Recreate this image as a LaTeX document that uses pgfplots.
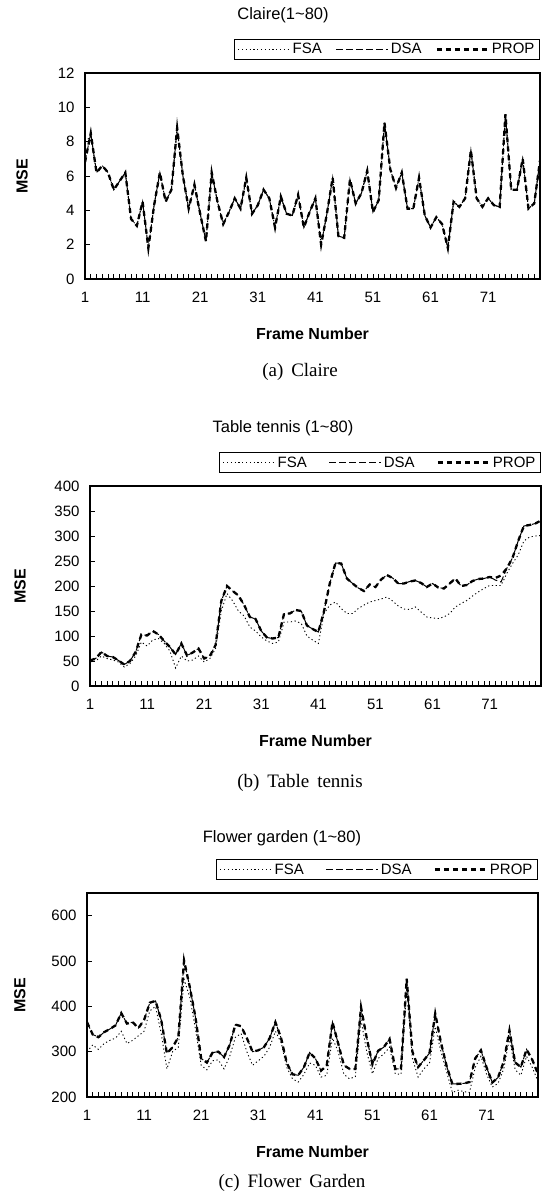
\documentclass[border=0pt]{standalone}
\usepackage{fontspec}
\setmainfont{Liberation Sans}
\newfontfamily\capfont{Liberation Serif}
\usepackage{pgfplots}
\usepackage{pgfplotstable}
\pgfplotsset{compat=1.18}

\pgfplotstableread{
f fsa dsa prop
1 8.0 6.8 6.8
2 8.3 8.5 8.5
3 6.2 6.2 6.2
4 6.6 6.6 6.6
5 6.2 6.2 6.2
6 5.2 5.2 5.2
7 5.7 5.7 5.7
8 6.2 6.2 6.2
9 3.5 3.5 3.5
10 3.1 3.1 3.1
11 4.5 4.5 4.5
12 1.8 1.8 1.8
13 4.3 4.3 4.3
14 6.2 6.2 6.2
15 4.5 4.5 4.5
16 5.2 5.2 5.2
17 8.8 8.8 8.8
18 6.0 6.0 6.0
19 4.1 4.1 4.1
20 5.5 5.5 5.5
21 3.8 3.8 3.8
22 2.2 2.2 2.2
23 6.2 6.2 6.2
24 4.5 4.5 4.5
25 3.2 3.2 3.2
26 3.9 3.9 3.9
27 4.7 4.7 4.7
28 4.1 4.1 4.1
29 5.9 5.9 5.9
30 3.8 3.8 3.8
31 4.3 4.3 4.3
32 5.2 5.2 5.2
33 4.7 4.7 4.7
34 3.0 3.0 3.0
35 4.8 4.8 4.8
36 3.8 3.8 3.8
37 3.7 3.7 3.7
38 4.9 4.9 4.9
39 3.0 3.0 3.0
40 3.9 3.9 3.9
41 4.7 4.7 4.7
42 2.0 2.0 2.0
43 3.8 3.8 3.8
44 5.9 5.9 5.9
45 2.5 2.5 2.5
46 2.4 2.4 2.4
47 5.8 5.8 5.8
48 4.4 4.4 4.4
49 5.0 5.0 5.0
50 6.3 6.3 6.3
51 3.9 3.9 3.9
52 4.6 4.6 4.6
53 9.1 9.1 9.1
54 6.4 6.4 6.4
55 5.3 5.3 5.3
56 6.2 6.2 6.2
57 4.1 4.1 4.1
58 4.1 4.1 4.1
59 5.9 5.9 5.9
60 3.7 3.7 3.7
61 3.0 3.0 3.0
62 3.6 3.6 3.6
63 3.2 3.2 3.2
64 1.8 1.8 1.8
65 4.5 4.5 4.5
66 4.2 4.2 4.2
67 4.7 4.7 4.7
68 7.5 7.5 7.5
69 4.7 4.7 4.7
70 4.2 4.2 4.2
71 4.7 4.7 4.7
72 4.3 4.3 4.3
73 4.2 4.2 4.2
74 9.6 9.6 9.6
75 5.2 5.2 5.2
76 5.2 5.2 5.2
77 7.0 7.0 7.0
78 4.1 4.1 4.1
79 4.4 4.4 4.4
80 6.9 6.9 6.9
}\claire

\pgfplotstableread{
f fsa dsa prop
1 48 51 51
2 50 55 55
3 60 68 68
4 55 60 60
5 52 58 58
6 48 51 51
7 38 43 43
8 45 50 50
9 60 68 68
10 88 103 103
11 80 101 101
12 92 110 110
13 95 103 103
14 85 90 90
15 70 78 78
16 36 63 63
17 60 85 85
18 50 61 61
19 52 67 67
20 60 75 75
21 48 55 55
22 55 60 60
23 75 82 82
24 150 170 170
25 185 200 200
26 170 190 190
27 150 181 181
28 140 162 162
29 118 138 138
30 110 134 134
31 98 110 110
32 90 97 97
33 85 95 95
34 88 97 97
35 128 145 145
36 128 145 145
37 130 152 152
38 125 150 150
39 100 121 121
40 92 114 114
41 85 108 108
42 145 150 150
43 162 205 205
44 168 246 246
45 155 245 245
46 145 215 215
47 145 205 205
48 155 196 196
49 162 190 190
50 168 203 203
51 171 198 198
52 174 213 213
53 178 222 222
54 170 216 216
55 160 205 205
56 154 205 205
57 153 209 209
58 158 211 211
59 148 206 206
60 138 198 198
61 136 205 205
62 135 197 197
63 138 195 195
64 145 205 205
65 158 215 215
66 165 200 200
67 171 202 202
68 180 210 210
69 188 214 214
70 195 215 215
71 201 218 218
72 201 212 216
73 201 208 221
74 225 235 235
75 245 256 256
76 262 290 290
77 290 320 320
78 298 322 322
79 300 325 325
80 301 331 331
}\tennis

\pgfplotstableread{
f fsa dsa prop
1 300 365 365
2 315 338 338
3 305 332 332
4 318 343 343
5 325 350 350
6 330 358 358
7 345 385 385
8 318 362 362
9 325 365 365
10 335 352 352
11 345 370 370
12 390 408 408
13 400 412 412
14 340 370 370
15 262 296 296
16 300 310 310
17 310 332 332
18 460 501 501
19 420 443 443
20 350 376 376
21 270 285 285
22 260 276 276
23 280 298 298
24 282 300 300
25 262 288 288
26 290 315 315
27 332 360 360
28 340 356 356
29 300 330 330
30 270 300 300
31 280 303 303
32 290 310 310
33 310 330 330
34 345 365 365
35 320 330 330
36 265 275 275
37 240 250 250
38 233 248 248
39 250 266 266
40 275 298 298
41 270 285 285
42 244 258 258
43 248 270 270
44 330 365 365
45 300 318 318
46 250 270 270
47 240 262 262
48 245 262 262
49 370 398 398
50 300 330 330
51 251 272 272
52 285 302 302
53 295 310 310
54 310 328 328
55 251 262 262
56 250 262 262
57 440 461 461
58 285 300 300
59 244 266 266
60 262 281 281
61 275 297 297
62 355 384 384
63 300 320 320
64 255 268 268
65 210 229 229
66 215 229 229
67 212 230 230
68 210 233 233
69 265 285 285
70 290 303 303
71 250 265 265
72 222 232 232
73 230 243 243
74 262 278 278
75 330 347 347
76 260 276 276
77 248 266 266
78 290 305 305
79 265 282 282
80 235 251 251
}\flower

\pgfplotsset{
  msebase/.style={
    scale only axis,
    xmin=1, xmax=80,
    axis line style={line width=1.2pt},
    tick align=inside, tick pos=left,
    major tick length=5pt, minor tick length=5pt,
    every tick/.style={black, line width=0.8pt},
    xtick={1,11,...,71}, minor xtick={1,...,80},
    /pgf/number format/assume math mode=true,
    ticklabel style={font=\fontsize{15}{15}\selectfont},
    xticklabel style={anchor=north, text height=11pt, text depth=0pt, yshift=-9pt},
    yticklabel style={xshift=-7pt},
    xlabel={Frame Number}, ylabel={MSE},
    xlabel style={font=\bfseries\fontsize{16}{16}\selectfont, at={(axis description cs:0.5,0)}, anchor=center, yshift=-55pt},
    ylabel style={font=\bfseries\fontsize{16}{16}\selectfont, anchor=center},
    legend columns=3,
    legend cell align=left,
    legend image code/.code={\draw[##1] (0pt,0pt) -- (52pt,0pt);},
    legend style={at={(1,1)}, anchor=south east, yshift=13pt, draw=black, line width=1pt,
      font=\fontsize{15}{15}\selectfont, inner xsep=3pt, inner ysep=2pt},
  },
  fsa/.style={black, line width=0.9pt, dash pattern=on 1.2pt off 2.6pt},
  dsa/.style={black, line width=1pt, dash pattern=on 7pt off 3pt},
  prop/.style={black, line width=2.3pt, dash pattern=on 5pt off 4pt},
}

\begin{document}
\begin{tikzpicture}
\useasboundingbox (0pt,0pt) rectangle (542pt,-1193pt);

\node[font=\fontsize{16.5}{16.5}\selectfont] at (283pt,-15pt) {Claire(1\textasciitilde80)};
\begin{axis}[msebase, at={(85pt,-279pt)}, anchor=south west, width=455pt, height=206pt,
  ymin=0, ymax=12, ytick={0,2,...,12},
  ylabel style={at={(axis description cs:-0.138,0.5)}},
  legend style={/tikz/every even column/.append style={column sep=12pt}}]
\addplot[fsa] table[x=f,y=fsa] {\claire};
\addplot[dsa] table[x=f,y=dsa] {\claire};
\addplot[prop] table[x=f,y=prop] {\claire};
\legend{FSA,DSA,PROP}
\end{axis}
\node[font=\capfont\fontsize{19}{19}\selectfont] at (300pt,-372pt) {(a)\, Claire};

\node[font=\fontsize{16.5}{16.5}\selectfont] at (283pt,-428pt) {Table tennis (1\textasciitilde80)};
\begin{axis}[msebase, at={(90pt,-686pt)}, anchor=south west, width=451pt, height=200pt,
  ymin=0, ymax=400, ytick={0,50,...,400},
  ylabel style={at={(axis description cs:-0.155,0.5)}},
  legend style={/tikz/every even column/.append style={column sep=20pt}}]
\addplot[fsa] table[x=f,y=fsa] {\tennis};
\addplot[dsa] table[x=f,y=dsa] {\tennis};
\addplot[prop] table[x=f,y=prop] {\tennis};
\legend{FSA,DSA,PROP}
\end{axis}
\node[font=\capfont\fontsize{19}{19}\selectfont] at (300pt,-783pt) {(b)\, Table\, tennis};

\node[font=\fontsize{16.5}{16.5}\selectfont] at (282pt,-838pt) {Flower garden (1\textasciitilde80)};
\begin{axis}[msebase, at={(87pt,-1097pt)}, anchor=south west, width=451pt, height=204pt,
  ymin=200, ymax=650, ytick={200,300,...,600},
  ylabel style={at={(axis description cs:-0.149,0.5)}},
  legend style={/tikz/every even column/.append style={column sep=20pt}}]
\addplot[fsa] table[x=f,y=fsa] {\flower};
\addplot[dsa] table[x=f,y=dsa] {\flower};
\addplot[prop] table[x=f,y=prop] {\flower};
\legend{FSA,DSA,PROP}
\end{axis}
\node[font=\capfont\fontsize{19}{19}\selectfont] at (292pt,-1183pt) {(c)\, Flower\, Garden};
\end{tikzpicture}
\end{document}
